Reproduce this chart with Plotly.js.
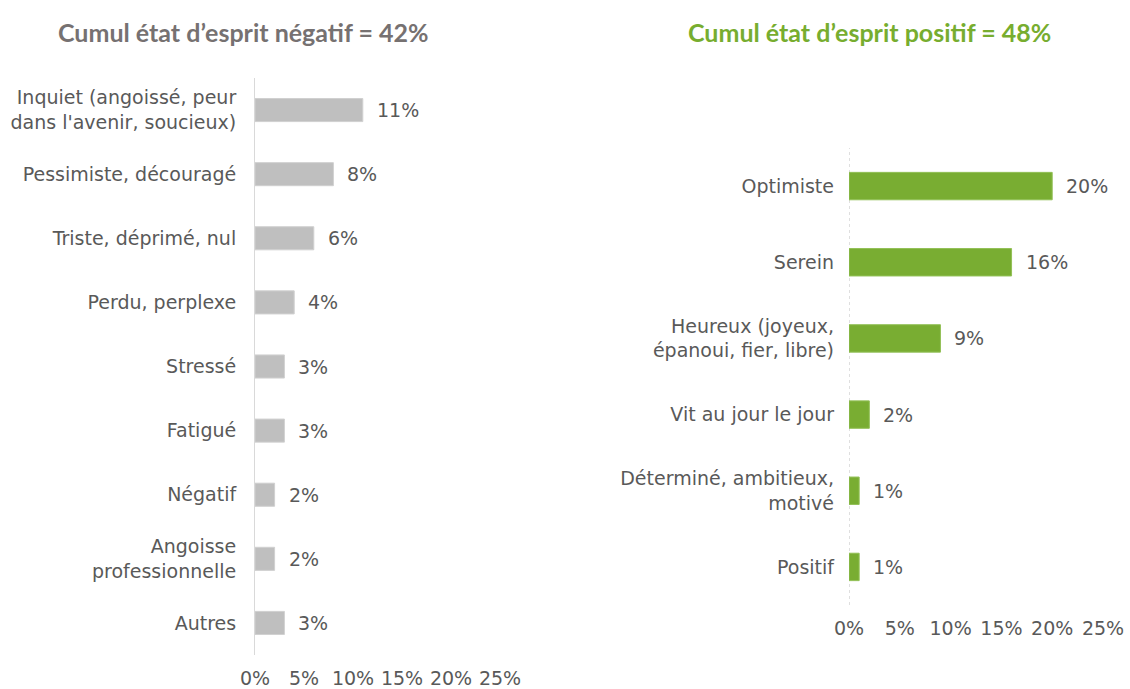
<!DOCTYPE html>
<html><head><meta charset="utf-8">
<script src="https://cdn.plot.ly/plotly-3.0.1.min.js"></script>
<style>html,body{margin:0;padding:0;background:#fff}#chart{width:1130px;height:689px}</style>
</head><body><div id="chart"></div>
<script>
const negCategories = ["Inquiet (angoissé, peur<br>dans l'avenir, soucieux)", "Pessimiste, découragé", "Triste, déprimé, nul", "Perdu, perplexe", "Stressé", "Fatigué", "Négatif", "Angoisse<br>professionnelle", "Autres"];
const negValues = [11, 8, 6, 4, 3, 3, 2, 2, 3];
const posCategories = ["Optimiste", "Serein", "Heureux (joyeux,<br>épanoui, fier, libre)", "Vit au jour le jour", "Déterminé, ambitieux,<br>motivé", "Positif"];
const posValues = [20, 16, 9, 2, 1, 1];
const tickVals = [0, 5, 10, 15, 20, 25];
const tickLabels = ["0%", "5%", "10%", "15%", "20%", "25%"];
const negTitle = "Cumul état d’esprit négatif = 42%";
const posTitle = "Cumul état d’esprit positif = 48%";

const textFont = {family: "'DejaVu Sans'", size: 19, color: "#595959"};
const grey = "#BFBFBF", green = "#79AD32";

const traces = [
  {type: "bar", orientation: "h", x: negValues, y: negCategories, xaxis: "x", yaxis: "y",
   marker: {color: grey, line: {color: "#D0D0D0", width: 1}}, hoverinfo: "x+y"},
  {type: "bar", orientation: "h", x: posValues, y: posCategories, xaxis: "x2", yaxis: "y2",
   marker: {color: green, line: {color: "#92C056", width: 1}}, hoverinfo: "x+y"}
];

const annotations = [];
negValues.forEach((v, i) => annotations.push({x: v, y: negCategories[i], xref: "x", yref: "y",
  text: v + "%", showarrow: false, xanchor: "left", xshift: 12, font: textFont}));
posValues.forEach((v, i) => annotations.push({x: v, y: posCategories[i], xref: "x2", yref: "y2",
  text: v + "%", showarrow: false, xanchor: "left", xshift: 12, font: textFont}));
annotations.push({x: 243/1130, y: 1 - 32/689, xref: "paper", yref: "paper", text: "<b>" + negTitle + "</b>",
  showarrow: false, xanchor: "center", yanchor: "middle", font: {family: "Lato", size: 25, color: "#767171"}});
annotations.push({x: 869/1130, y: 1 - 32/689, xref: "paper", yref: "paper", text: "<b>" + posTitle + "</b>",
  showarrow: false, xanchor: "center", yanchor: "middle", font: {family: "Lato", size: 25, color: "#77AD2F"}});

const xCommon = {range: [0, 25], tickvals: tickVals, ticktext: tickLabels, showgrid: false, zeroline: false,
  showline: false, ticks: "", tickfont: textFont, ticklabelstandoff: 10, fixedrange: true};
const yCommon = {autorange: "reversed", showgrid: false, zeroline: false, ticks: "", tickfont: textFont,
  ticklabelstandoff: 14, fixedrange: true};

const layout = {
  width: 1130, height: 689, margin: {l: 0, r: 0, t: 0, b: 0},
  paper_bgcolor: "#fff", plot_bgcolor: "#fff", showlegend: false, bargap: 0.64,
  font: textFont,
  xaxis: Object.assign({}, xCommon, {domain: [255/1130, 500/1130], anchor: "y"}),
  yaxis: Object.assign({}, yCommon, {domain: [1 - 655/689, 1 - 78/689], anchor: "x",
    showline: true, linecolor: "#D9D9D9", linewidth: 1}),
  xaxis2: Object.assign({}, xCommon, {domain: [849/1130, 1103/1130], anchor: "y2"}),
  yaxis2: Object.assign({}, yCommon, {domain: [1 - 605/689, 1 - 148/689], anchor: "x2", showline: false}),
  shapes: [{type: "line", xref: "x2", yref: "y2 domain", x0: 0, x1: 0, y0: 0, y1: 1,
    line: {color: "#BFBFBF", width: 1, dash: "dot"}, layer: "below"}],
  annotations: annotations
};

Plotly.newPlot("chart", traces, layout, {displayModeBar: false, responsive: false});
</script></body></html>
